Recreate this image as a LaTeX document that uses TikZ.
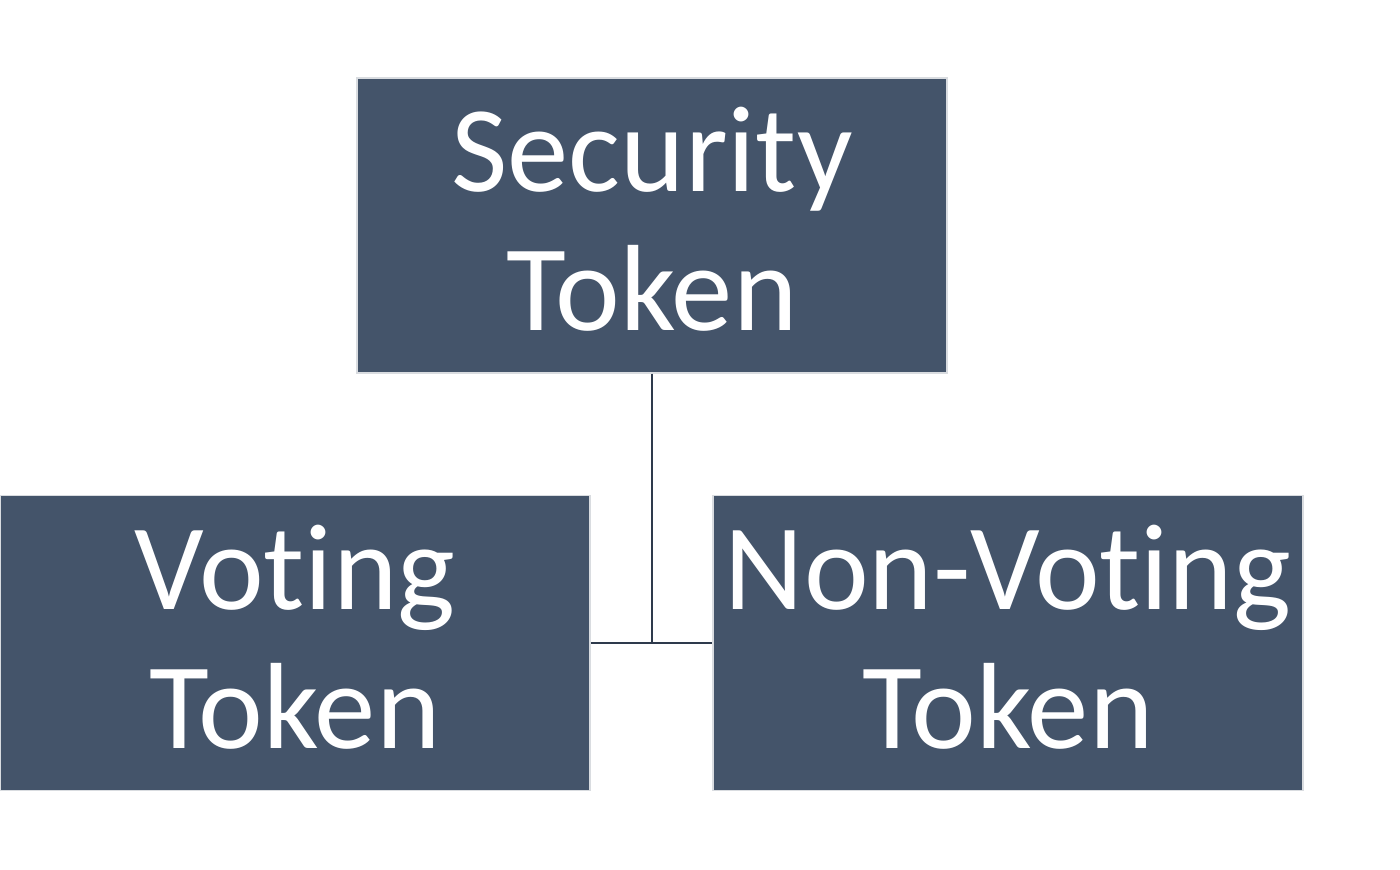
\documentclass[tikz,border=0pt]{standalone}
\usepackage{fontspec}
\setmainfont[Ligatures={NoCommon,NoRare,NoContextual}]{Carlito}
\definecolor{boxfill}{HTML}{44546A}
\definecolor{boxline}{HTML}{D9DCE0}
\definecolor{conn}{HTML}{2E3A4C}
\begin{document}
\begin{tikzpicture}[x=0.75pt,y=-0.75pt,
  tokbox/.style={draw=boxline, line width=1.2pt, fill=boxfill,
    minimum width=442.5pt, minimum height=221pt, inner sep=0pt},
  toktext/.style={text=white, inner sep=0pt, yshift=4.5pt,
    align=center, font=\fontsize{92}{104}\selectfont},
  link/.style={draw=conn, line width=1.5pt}]
\useasboundingbox (0,0) rectangle (1400,869);
\node[tokbox, label={[toktext]center:Security\\Token}] (sec) at (652,225.5) {};
\node[tokbox, label={[toktext]center:Voting\\Token}] (vot) at (295,643) {};
\node[tokbox, label={[toktext]center:Non-Voting\\Token}] (non) at (1008,643) {};
\coordinate (j) at (652,643);
\draw[link] (sec.south) -- (j);
\draw[link] (vot.east) -- (non.west);
\end{tikzpicture}
\end{document}
